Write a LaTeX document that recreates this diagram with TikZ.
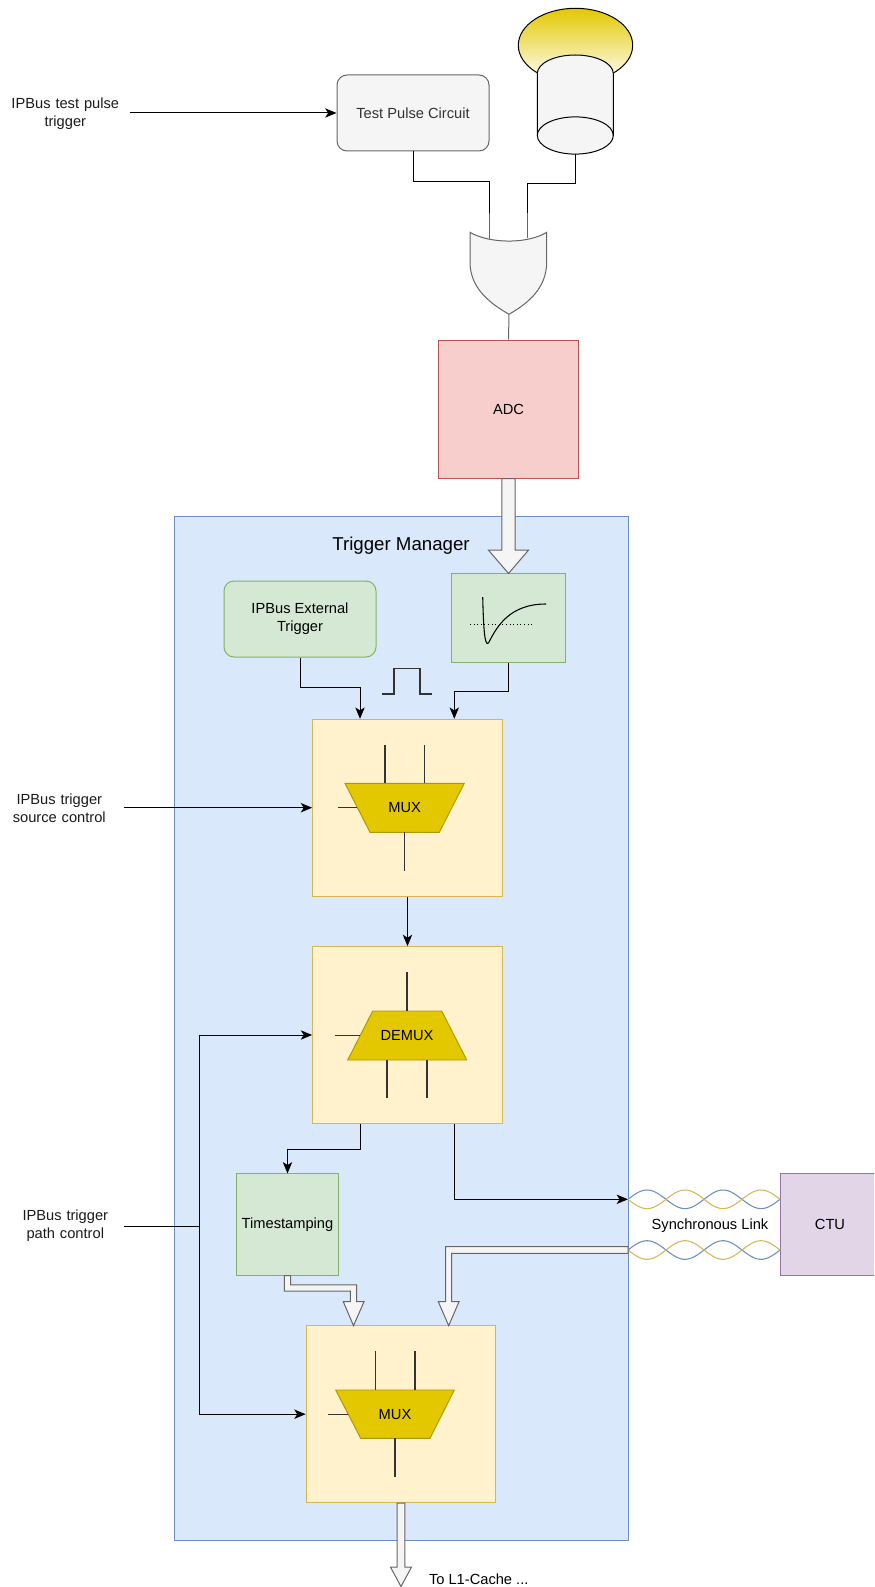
\documentclass[tikz,border=0pt]{standalone}
\usepackage{fontspec}
\setsansfont{Liberation Sans}
\usepackage{tikz}
\usetikzlibrary{arrows.meta,calc}
\definecolor{INK}{HTML}{1A1A1A}
\definecolor{SUB}{HTML}{333333}
\definecolor{GREYFILL}{HTML}{F5F5F5}
\definecolor{GREYLINE}{HTML}{666666}
\definecolor{ADCFILL}{HTML}{F8CECC}
\definecolor{ADCLINE}{HTML}{B85450}
\definecolor{TMFILL}{HTML}{DAE8FC}
\definecolor{TMLINE}{HTML}{6C8EBF}
\definecolor{GRNFILL}{HTML}{D5E8D4}
\definecolor{GRNLINE}{HTML}{82B366}
\definecolor{BOXFILL}{HTML}{FFF2CC}
\definecolor{BOXLINE}{HTML}{D6B656}
\definecolor{GOLD}{HTML}{E3C800}
\definecolor{GOLDLINE}{HTML}{B09500}
\definecolor{CTUFILL}{HTML}{E1D5E7}
\definecolor{CTULINE}{HTML}{9673A6}

\begin{document}
\begin{tikzpicture}[
  x=0.75pt, y=-0.75pt,
  font=\sffamily\fontsize{11}{13.6}\selectfont,
  lbl/.style={align=center, text width=96pt, inner sep=0pt, text=INK},
  grn/.style={fill=GRNFILL, draw=GRNLINE, line width=0.75pt, align=center, inner sep=0pt},
  muxbox/.style={fill=BOXFILL, draw=BOXLINE, line width=0.75pt, minimum width=142.3pt, minimum height=132.6pt, inner sep=0pt},
  trap/.style={fill=GOLD, draw=GOLDLINE, line width=0.7pt},
  stub/.style={draw=SUB, line width=0.8pt},
  wire/.style={draw=black, line width=0.75pt},
  conn/.style={wire, -{Stealth[length=8.5pt, width=7pt, inset=2.2pt]}},
  hollow/.style={fill=GREYFILL, draw=GREYLINE, line width=0.75pt, line join=miter},
]
\useasboundingbox (0,0) rectangle (874,1587);
\clip (0,0) rectangle (874,1587);

% test pulse path
\node[lbl] (tptxt) at (65.3,114) {IPBus test pulse\\trigger};
\node[fill=GREYFILL, draw=GREYLINE, line width=0.75pt, rounded corners=7.5pt,
  minimum width=114pt, minimum height=57pt, text=SUB] (tpc) at (413,113) {Test Pulse Circuit};
\draw[conn] (tptxt.east |- tpc.west) -- (tpc.west);

% detector: lamp on a cylinder
\shade[top color=GOLD, bottom color=white, draw=black, line width=0.75pt]
  (575.5,45.3) ellipse [x radius=57.2, y radius=37];
\filldraw[fill=GREYFILL, draw=black, line width=0.75pt]
  (537.3,73.6) arc[start angle=180, end angle=360, x radius=38, y radius=18.6]
  -- (613.3,135.5) arc[start angle=0, end angle=180, x radius=38, y radius=18.6] -- cycle;
\draw[black, line width=0.75pt] (537.3,135.5) arc[start angle=180, end angle=360, x radius=38, y radius=18.6];
\coordinate (cylbot) at (575.3,154.1);

% OR gate
\filldraw[fill=GREYFILL, draw=GREYLINE, line width=0.75pt]
  (470,232.3) .. controls (490,244) and (528,244) .. (546.7,232.3) -- (546.7,262)
  .. controls (546.7,290) and (525,305) .. (509,314.3)
  .. controls (493,305) and (470,290) .. (470,262) -- cycle;
\coordinate (ora) at (489.3,213);
\coordinate (orb) at (527.3,213);
\coordinate (orout) at (509,314.3);
\draw[GREYLINE, line width=0.75pt] (ora) -- ++(0,26) (orb) -- ++(0,25);
\draw[wire] (tpc.south) |- ($(ora)+(0,-31)$) -- (ora);
\draw[wire] (cylbot) |- ($(orb)+(0,-29.3)$) -- (orb);

\node[fill=ADCFILL, draw=ADCLINE, line width=0.75pt, minimum width=104.3pt, minimum height=103.5pt] (adc) at (508.5,409) {ADC};
\draw[GREYLINE, line width=0.75pt] (orout) -- (adc.north);

% trigger manager
\node[fill=TMFILL, draw=TMLINE, line width=0.75pt, minimum width=340.5pt, minimum height=767.3pt] (tm) at (401,1028.5) {};
\node[font=\sffamily\fontsize{14}{16}\selectfont] (tmtitle) at ($(tm.north)+(0,29)$) {Trigger Manager};

% pulse shaping
\node[grn, minimum width=85.8pt, minimum height=66.5pt] (shaper) at (508.5,618.3) {};
\draw[black, line width=0.8pt] (482.7,597) .. controls (483.5,627) and (484.5,647) .. (488.5,643)
  .. controls (497,626) and (510,604) .. (546,604);
\draw[black, line width=0.7pt, dotted] (470,624.3) -- (532.7,624.3);
\draw[hollow] ($(adc.south)+(-6.7,0)$) -- ($(shaper.north)+(-6.7,-23.3)$) -- ++(-13.3,0)
  -- (shaper.north) -- ($(shaper.north)+(20,-23.3)$) -- ++(-13.3,0) -- ($(adc.south)+(6.7,0)$) -- cycle;

\node[grn, rounded corners=7.5pt, minimum width=114pt, minimum height=57pt] (ext) at (300,619) {IPBus External\\Trigger};
\draw[stub] (382.3,694) -- (394,694) -- (394,668.7) -- (420,668.7) -- (420,694) -- (432.3,694);

% source MUX
\node[muxbox] (mux1) at (407.5,807.7) {};
\draw[trap] (345,783.3) -- (464.3,783.3) -- (439.3,832.3) -- (370,832.3) -- cycle;
\node (m1lbl) at (404.7,808) {MUX};
\draw[stub] (385,745) -- (385,783.3) (424.3,745) -- (424.3,783.3)
  (337.7,807.7) -- (357.4,807.7) (404.3,832.3) -- (404.3,870.7);
\node[lbl] (srctxt) at (59.3,808) {IPBus trigger\\source control};
\draw[conn] (srctxt.east |- mux1.west) -- (mux1.west);
\draw[conn] (ext.south) -- ++(0,30.3) -| ($(mux1.north)+(-47.5,0)$);
\draw[conn] (shaper.south) -- ++(0,28.4) -| ($(mux1.north)+(46.8,0)$);

% path DEMUX
\node[muxbox] (demux) at (407.5,1035) {};
\draw[trap] (372.7,1011) -- (441.7,1011) -- (466.7,1060) -- (347.7,1060) -- cycle;
\node (dmlbl) at (407,1036) {DEMUX};
\draw[stub] (407,972.3) -- (407,1011) (335,1035.3) -- (360.3,1035.3)
  (387,1060) -- (387,1098.3) (427,1060) -- (427,1098.3);
\draw[conn] (mux1.south) -- (demux.north);

% timestamping and link to the CTU
\node[grn, minimum width=76.2pt, minimum height=76.3pt] (ts) at (287.5,1224.8) {Timestamping};
\draw[conn] ($(demux.south)+(-47.5,0)$) -- ++(0,25.7) -| (ts.north);
\node[fill=CTUFILL, draw=CTULINE, line width=0.75pt, minimum width=75pt, minimum height=75.8pt] (ctu) at (830,1224.5) {CTU};
\coordinate (lnk1) at (628,1199.3);
\coordinate (lnk2) at (628,1250);
\draw[conn] ($(demux.south)+(46.8,0)$) |- (lnk1);
\foreach \yc in {1199.3,1250} {
  \draw[TMLINE, line width=0.8pt] plot[domain=0:152, samples=80, smooth] ({628+\x}, {\yc - 9.3*sin(\x*4.7368)});
  \draw[BOXLINE, line width=0.8pt] plot[domain=0:152, samples=80, smooth] ({628+\x}, {\yc + 9.3*sin(\x*4.7368)});
}
\node (lnktxt) at (710,1226) {Synchronous Link};

% output MUX
\node[muxbox] (mux2) at (401,1414.2) {};
\draw[trap] (335.7,1390) -- (454.3,1390) -- (430,1438.3) -- (360.7,1438.3) -- cycle;
\node (m2lbl) at (395,1415) {MUX};
\draw[stub] (375.3,1351) -- (375.3,1390) (415,1351) -- (415,1390)
  (328.3,1414.3) -- (348.3,1414.3) (395,1438.3) -- (395,1477.3);

\draw[hollow] (284.3,1275.7) -- (284.3,1291.2) -- (350.3,1291.2) -- (350.3,1301.7) -- (343.3,1301.7)
  -- (353.5,1325.7) -- (364,1301.7) -- (356.7,1301.7) -- (356.7,1284.8) -- (290.7,1284.8) -- (290.7,1275.7) -- cycle;
\draw[hollow] ($(lnk2)+(0,-3.3)$) -- (445.7,1246.7) -- (445.7,1301.7) -- (438.3,1301.7)
  -- (448.7,1325.7) -- (459,1301.7) -- (451.7,1301.7) -- (451.7,1253.3) -- ($(lnk2)+(0,3.3)$) -- cycle;

% trigger path control
\node[lbl] (pathtxt) at (65.3,1226) {IPBus trigger\\path control};
\coordinate (bus) at (199,1226);
\draw[wire] ($(pathtxt.east)+(-6,0)$) -- (bus);
\draw[conn] (bus) |- (demux.west);
\draw[conn] (bus) |- (mux2.west);

% to L1 cache
\draw[hollow] ($(mux2.south)+(-3.9,0)$) -- ($(mux2.south)+(-3.9,64)$) -- ++(-6.6,0) -- (401,1586.5)
  -- ($(mux2.south)+(10.5,64)$) -- ++(-6.6,0) -- ($(mux2.south)+(3.9,0)$) -- cycle;
\node[anchor=west] (l1txt) at (424.3,1579) {To L1-Cache ...};

\end{tikzpicture}
\end{document}
